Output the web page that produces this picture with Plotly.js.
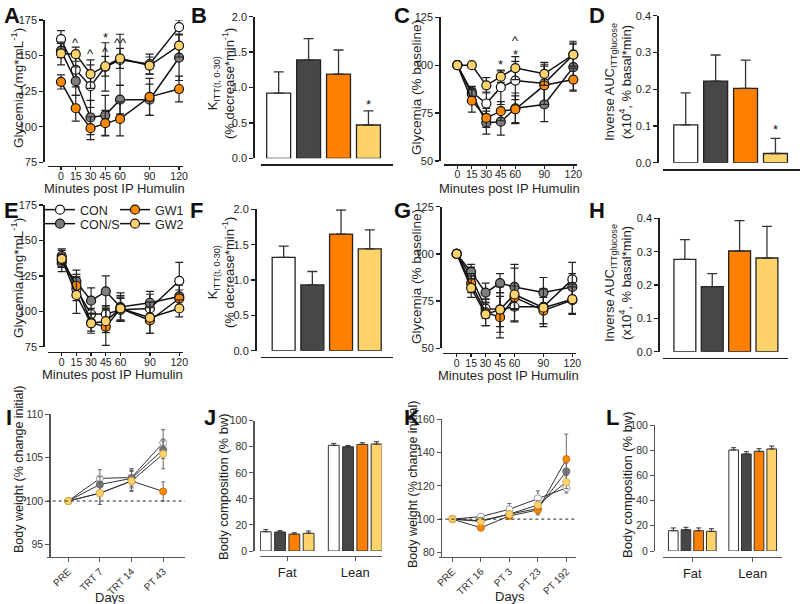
<!DOCTYPE html>
<html>
<head>
<meta charset="utf-8">
<script src="https://cdn.plot.ly/plotly-3.0.1.min.js"></script>
<style>
  html, body { margin: 0; padding: 0; background: #fff; }
  #plot-container { width: 800px; height: 604px; }
</style>
</head>
<body>
<div id="plot-container"></div>
<script>
// groups and time points
const groups = ['CON', 'CON/S', 'GW1', 'GW2'];
const minutes = [0, 15, 30, 45, 60, 90, 120];
const daysI = ['PRE', 'TRT 7', 'TRT 14', 'PT 43'];
const daysK = ['PRE', 'TRT 16', 'PT 3', 'PT 23', 'PT 192'];
const compCats = ['Fat', 'Lean'];

// A - glycemia (mg/mL), rows = CON, CON/S, GW1, GW2
const glyA = [
  [161.5, 140, 128.5, 142, 147, 144, 170],
  [153.5, 132, 106.5, 108, 119, 119, 148.5],
  [131.5, 113, 99, 102.5, 105.5, 121, 126.5],
  [151.5, 151, 137, 142.5, 148, 143, 157]
];
const glyAErr = [
  [6, 12, 15, 17, 18, 7, 5],
  [5, 10, 12, 14, 10, 11, 16],
  [5, 9, 8, 9, 12, 13, 9],
  [8, 5, 10, 7, 7, 6, 8]
];
const sigAx = [15, 30, 45, 45, 60, 120];
const sigAy = [159, 151.5, 162.5, 153, 159, 176];
const sigAt = ['^', '^', '*', '^', '^^', '^'];

// B - K ITT
const kittB = [0.92, 1.39, 1.19, 0.47];
const kittBErr = [0.30, 0.30, 0.34, 0.20];

// C - glycemia (% baseline)
const pctC = [
  [100, 86, 80, 88.5, 92, 90.5, 105.5],
  [100, 85, 70, 70.5, 77.5, 79.5, 99],
  [100, 81.5, 72.5, 76, 77, 89.5, 92.5],
  [100, 100, 89.5, 94, 98.5, 95.5, 105.5]
];
const pctCErr = [
  [0, 3, 6, 9, 10, 10, 7],
  [0, 3, 6, 7, 8, 9, 12],
  [0, 6, 5, 5, 7, 10, 6],
  [0, 1, 4, 3, 6, 6, 6]
];
const sigCx = [45, 60, 60];
const sigCy = [100.5, 113, 105.5];
const sigCt = ['*', '^', '*'];

// D - inverse AUC
const aucD = [0.103, 0.222, 0.202, 0.025];
const aucDErr = [0.087, 0.071, 0.077, 0.041];

// E - glycemia (mg/mL)
const glyE = [
  [139, 115.5, 98, 98, 101, 102, 121.5],
  [134, 121, 107.5, 114, 103, 106, 110.5],
  [136, 118, 92, 89, 102, 93.5, 109],
  [137, 111.5, 91.5, 93, 102, 95.5, 102]
];
const glyEErr = [
  [5, 8, 4, 6, 8, 10, 13],
  [6, 8, 9, 11, 10, 8, 8],
  [5, 8, 6, 13, 9, 9, 6],
  [6, 13, 7, 8, 8, 11, 6]
];

// F - K ITT
const kittF = [1.32, 0.93, 1.65, 1.44];
const kittFErr = [0.16, 0.19, 0.34, 0.27];

// G - glycemia (% baseline)
const pctG = [
  [100, 88, 71, 70.5, 72, 72, 86.5],
  [100, 90.5, 79.5, 84.5, 82.5, 79.5, 82.5],
  [100, 84.5, 69, 66.5, 77, 70, 75.5],
  [100, 82, 68, 70.5, 78.5, 71.5, 76]
];
const pctGErr = [
  [0, 5, 5, 9, 8, 9, 9],
  [0, 4, 5, 5, 12, 8, 7],
  [0, 5, 7, 11, 6, 7, 7],
  [0, 5, 6, 12, 14, 10, 8]
];

// H - inverse AUC
const aucH = [0.277, 0.195, 0.302, 0.281];
const aucHErr = [0.059, 0.039, 0.091, 0.095];

// I - body weight (% change initial)
const bwI = [
  [100, 102.6, 102.7, 106.7],
  [100, 101.9, 102.6, 105.9],
  [100, 100.9, 102.3, 101.1],
  [100, 100.9, 102.3, 105.4]
];
const bwIErr = [
  [0, 1.0, 1.0, 1.5],
  [0, 0.9, 1.1, 1.0],
  [0, 1.3, 1.1, 1.1],
  [0, 1.3, 1.2, 1.7]
];

// J - body composition (% bw), rows = groups, cols = Fat, Lean
const compJ = [[14.8, 81.1], [14.6, 80.0], [13.0, 81.8], [13.6, 82.1]];
const compJErr = [[1.6, 1.5], [1.0, 1.0], [1.0, 1.3], [1.7, 1.8]];

// K - body weight (% change initial)
const bwK = [
  [100, 101.5, 105.9, 112.5, 118.7],
  [100, 99, 103, 106.3, 128.7],
  [100, 94.8, 101.9, 105.5, 136.1],
  [100, 98.6, 103, 108.5, 122.3]
];
const bwKErr = [
  [0, 1, 3.5, 4.5, 3],
  [0, 1, 1.5, 3, 5],
  [0, 1.5, 1.5, 3, 15],
  [0, 1.5, 1.5, 2.5, 4]
];

// L - body composition (% bw)
const compL = [[16.1, 80.2], [16.9, 77.0], [16.1, 79.1], [15.6, 81.0]];
const compLErr = [[2.2, 1.8], [1.9, 1.8], [2.2, 2.1], [2.1, 2.3]];

const barFill = ['#ffffff', '#474747', '#ff8000', '#ffd36b'];
const dotFill = ['#ffffff', '#7d7d7d', '#ff8a00', '#ffd36b'];
const dotEdgeSmall = ['#9a9a9a', '#666666', '#d86a00', '#e0b050'];

const W = 800, H = 604;
const ink = '#1e1e1e';

function axId(n) { return n === 1 ? '' : String(n); }

function xAx(x0, x1, yLine, range, extra) {
  return Object.assign({
    domain: [x0 / W, x1 / W], anchor: 'free', position: 1 - yLine / H, range: range,
    showline: true, linecolor: ink, linewidth: 1.5, ticks: 'outside', ticklen: 3,
    tickwidth: 1.3, tickcolor: ink, showgrid: false, zeroline: false, tickangle: 0,
    ticklabelstandoff: -3, tickfont: { size: 10.5, color: ink }, fixedrange: true
  }, extra);
}

function yAx(yTop, yBot, xLine, range, extra) {
  return Object.assign({
    domain: [1 - yBot / H, 1 - yTop / H], anchor: 'free', position: xLine / W, range: range,
    showline: true, linecolor: ink, linewidth: 1.5, ticks: 'outside', ticklen: 4,
    tickwidth: 1.3, tickcolor: ink, showgrid: false, zeroline: false,
    tickfont: { size: 11, color: ink }, fixedrange: true
  }, extra);
}

function lineSet(xs, means, errs, n, small) {
  return groups.map((g, i) => ({
    type: 'scatter', mode: 'lines+markers', x: xs, y: means[i], name: g,
    xaxis: 'x' + axId(n), yaxis: 'y' + axId(n),
    line: { color: small ? '#333' : '#111', width: small ? 1 : 1.5 },
    marker: {
      size: small ? 7 : 9, color: dotFill[i],
      line: { color: small ? dotEdgeSmall[i] : '#111', width: small ? 1 : 1.2 }
    },
    error_y: {
      type: 'data', array: errs[i], color: small ? '#666' : '#222',
      thickness: small ? 1 : 1.2, width: small ? 2 : 4
    },
    showlegend: false, cliponaxis: false
  }));
}

function barSet(vals, errs, n) {
  return [{
    type: 'bar', x: groups, y: vals, width: 0.8,
    xaxis: 'x' + axId(n), yaxis: 'y' + axId(n),
    marker: { color: barFill, line: { color: '#222', width: 1.3 } },
    error_y: {
      type: 'data', symmetric: false, array: errs, arrayminus: errs.map(() => 0),
      color: '#333', thickness: 1.3, width: 5
    },
    showlegend: false
  }];
}

function compSet(vals, errs, n) {
  return groups.map((g, i) => ({
    type: 'bar', x: compCats, y: vals[i], name: g,
    xaxis: 'x' + axId(n), yaxis: 'y' + axId(n),
    marker: { color: barFill[i], line: { color: '#333', width: 1 } },
    error_y: {
      type: 'data', symmetric: false, array: errs[i], arrayminus: [0, 0],
      color: '#333', thickness: 1, width: 2.5
    },
    showlegend: false
  }));
}

const traces = [];
traces.push(...lineSet(minutes, glyA, glyAErr, 1, false));
traces.push(...barSet(kittB, kittBErr, 2));
traces.push(...lineSet(minutes, pctC, pctCErr, 3, false));
traces.push(...barSet(aucD, aucDErr, 4));
const eTr = lineSet(minutes, glyE, glyEErr, 5, false);
const eLegend = ['legend', 'legend2', 'legend', 'legend2'];
eTr.forEach((t, i) => { t.showlegend = true; t.legend = eLegend[i]; });
traces.push(...eTr);
traces.push(...barSet(kittF, kittFErr, 6));
traces.push(...lineSet(minutes, pctG, pctGErr, 7, false));
traces.push(...barSet(aucH, aucHErr, 8));
traces.push(...lineSet(daysI, bwI, bwIErr, 9, true));
traces.push(...compSet(compJ, compJErr, 10));
traces.push(...lineSet(daysK, bwK, bwKErr, 11, true));
traces.push(...compSet(compL, compLErr, 12));

const tMin = { tickvals: minutes };
const noTicks = { ticks: '', showticklabels: false };
const soft = {
  linecolor: '#555', linewidth: 1.2, tickcolor: '#555', tickwidth: 1, ticklen: 4,
  tickfont: { size: 10.5, color: '#333' }
};
const rotFont = { tickangle: -45, ticklabelstandoff: 0, tickfont: { size: 10, color: '#333' } };
const catFont = { ticklabelstandoff: 0, tickfont: { size: 13, color: '#222' } };

const legendBase = {
  x: 40 / W, xanchor: 'left', yanchor: 'middle', orientation: 'h',
  font: { size: 12.5, color: ink }, bgcolor: 'rgba(0,0,0,0)', itemwidth: 30,
  entrywidth: 30, entrywidthmode: 'pixels', tracegroupgap: 0
};

const layout = {
  width: W, height: H,
  margin: { l: 0, r: 0, t: 0, b: 0 },
  paper_bgcolor: '#ffffff', plot_bgcolor: 'rgba(0,0,0,0)',
  font: { family: 'Liberation Sans, Arial, sans-serif', color: ink },
  barmode: 'group', bargap: 0.16, bargroupgap: 0.24,
  showlegend: true,

  xaxis: xAx(48, 183, 165.7, [-13.2, 124], tMin),
  yaxis: yAx(20, 162.3, 43.3, [75, 175], { dtick: 25 }),
  xaxis2: xAx(260.7, 392.7, 164, [-0.6, 3.81], noTicks),
  yaxis2: yAx(16.7, 158.3, 253.3, [0, 2], { dtick: 0.5, tickformat: '.1f' }),
  xaxis3: xAx(444, 576.7, 164, [-13.8, 123.5], tMin),
  yaxis3: yAx(17.3, 161, 439.3, [50, 125], { dtick: 25 }),
  xaxis4: xAx(662.7, 800, 169, [-0.77, 3.82], noTicks),
  yaxis4: yAx(15.7, 162.7, 657.3, [0, 0.4], { dtick: 0.1, tickformat: '.1f' }),

  xaxis5: xAx(48.3, 183.3, 351.7, [-13.7, 124.1], tMin),
  yaxis5: yAx(205, 346.7, 43.3, [75, 175], { dtick: 25 }),
  xaxis6: xAx(260.7, 392.7, 356.7, [-0.8, 3.8], noTicks),
  yaxis6: yAx(209.3, 350.7, 255, [0, 2], { dtick: 0.5, tickformat: '.1f' }),
  xaxis7: xAx(443, 576, 352.7, [-14.2, 123.8], tMin),
  yaxis7: yAx(206.7, 348.3, 440, [50, 125], { dtick: 25 }),
  xaxis8: xAx(663, 788.3, 357.7, [-0.8, 3.78], noTicks),
  yaxis8: yAx(218.3, 351.7, 658.3, [0, 0.4], { dtick: 0.1, tickformat: '.1f' }),

  xaxis9: xAx(46.7, 185, 556.7, [-0.68, 3.69], Object.assign({}, soft, rotFont)),
  yaxis9: yAx(414, 556.7, 49.3, [93.6, 110], Object.assign({ tick0: 95, dtick: 5 }, soft)),
  xaxis10: xAx(260, 381.7, 555.7, [-0.4, 1.39], Object.assign({}, soft, catFont)),
  yaxis10: yAx(420.7, 551, 253.3, [0, 100], Object.assign({ dtick: 20 }, soft)),
  xaxis11: xAx(439.3, 576, 556.7, [-0.46, 4.34], Object.assign({}, soft, rotFont)),
  yaxis11: yAx(419.3, 556.7, 440.7, [77.4, 160], Object.assign({ tick0: 80, dtick: 20 }, soft)),
  xaxis12: xAx(663.3, 781.7, 556.7, [-0.48, 1.48], Object.assign({}, soft, catFont)),
  yaxis12: yAx(425, 551, 654, [0, 100], Object.assign({ dtick: 20 }, soft)),

  legend: Object.assign({ y: 1 - 210 / H }, legendBase),
  legend2: Object.assign({ y: 1 - 224 / H }, legendBase),

  shapes: [
    { type: 'line', xref: 'x9 domain', yref: 'y9', x0: 0, x1: 1, y0: 100, y1: 100, line: { color: '#222', width: 1, dash: 'dot' } },
    { type: 'line', xref: 'x11 domain', yref: 'y11', x0: 0, x1: 1, y0: 100, y1: 100, line: { color: '#222', width: 1, dash: 'dot' } }
  ],
  annotations: []
};

// axis titles, placed by hand in pixels
const glyText = 'Glycemia (mg*mL<sup>-1</sup>)';
const pctText = 'Glycemia (% baseline)';
const kittText = 'K<sub>ITT(t, 0-30)</sub><br>(% decrease*min<sup>-1</sup>)';
const aucText = 'Inverse AUC<sub>ITTglucose</sub><br>(x10<sup>4</sup>, % basal*min)';
const minText = 'Minutes post IP Humulin';
const bwText = 'Body weight (% change initial)';
const bcText = 'Body composition (% bw)';

const titleText = [glyText, kittText, pctText, aucText, glyText, kittText, pctText, aucText,
  bwText, bcText, bwText, bcText, minText, minText, minText, minText, 'Days', 'Days'];
const titleX = [17, 221, 417, 618, 17, 221, 416, 618, 19, 223, 413, 627, 115, 510, 113, 508, 110, 510];
const titleY = [88, 84, 88, 82, 278, 273, 277, 283, 470, 487, 485, 485, 188, 188, 374, 375, 597, 596];
const titleSize = [13.5, 13, 13.5, 13, 13.5, 13, 13.5, 13, 12.5, 13, 12.5, 13, 13, 13, 13, 13, 13, 13];
titleText.forEach((t, i) => layout.annotations.push({
  xref: 'paper', yref: 'paper', x: titleX[i] / W, y: 1 - titleY[i] / H,
  xanchor: 'center', yanchor: 'middle', text: t, showarrow: false,
  textangle: i < 12 ? -90 : 0,
  font: { size: titleSize[i], color: (i >= 8 && i < 12) || i >= 16 ? '#222' : ink }
}));

// significance marks
function addSig(xs, ys, ts, n) {
  xs.forEach((x, i) => layout.annotations.push({
    xref: 'x' + axId(n), yref: 'y' + axId(n), x: x, y: ys[i], text: ts[i],
    showarrow: false, font: { size: 13, color: '#111' }, yanchor: 'middle'
  }));
}
addSig(sigAx, sigAy, sigAt, 1);
addSig(sigCx, sigCy, sigCt, 3);
addSig(['GW2'], [0.76], ['*'], 2);
addSig(['GW2'], [0.09], ['*'], 4);

// panel letters
const letters = ['A', 'B', 'C', 'D', 'E', 'F', 'G', 'H', 'I', 'J', 'K', 'L'];
const letterX = [2, 189, 392, 587, 2, 188, 392, 587, 4, 202, 402, 604];
const letterY = [1, 1, 1, 1, 196, 196, 196, 196, 403, 403, 403, 403];
letters.forEach((l, i) => layout.annotations.push({
  xref: 'paper', yref: 'paper', x: letterX[i] / W, y: 1 - letterY[i] / H,
  xanchor: 'left', yanchor: 'top', text: '<b>' + l + '</b>', showarrow: false,
  font: { size: 22, color: '#111' }
}));

Plotly.newPlot('plot-container', traces, layout, { displayModeBar: false, staticPlot: true });
</script>
</body>
</html>
